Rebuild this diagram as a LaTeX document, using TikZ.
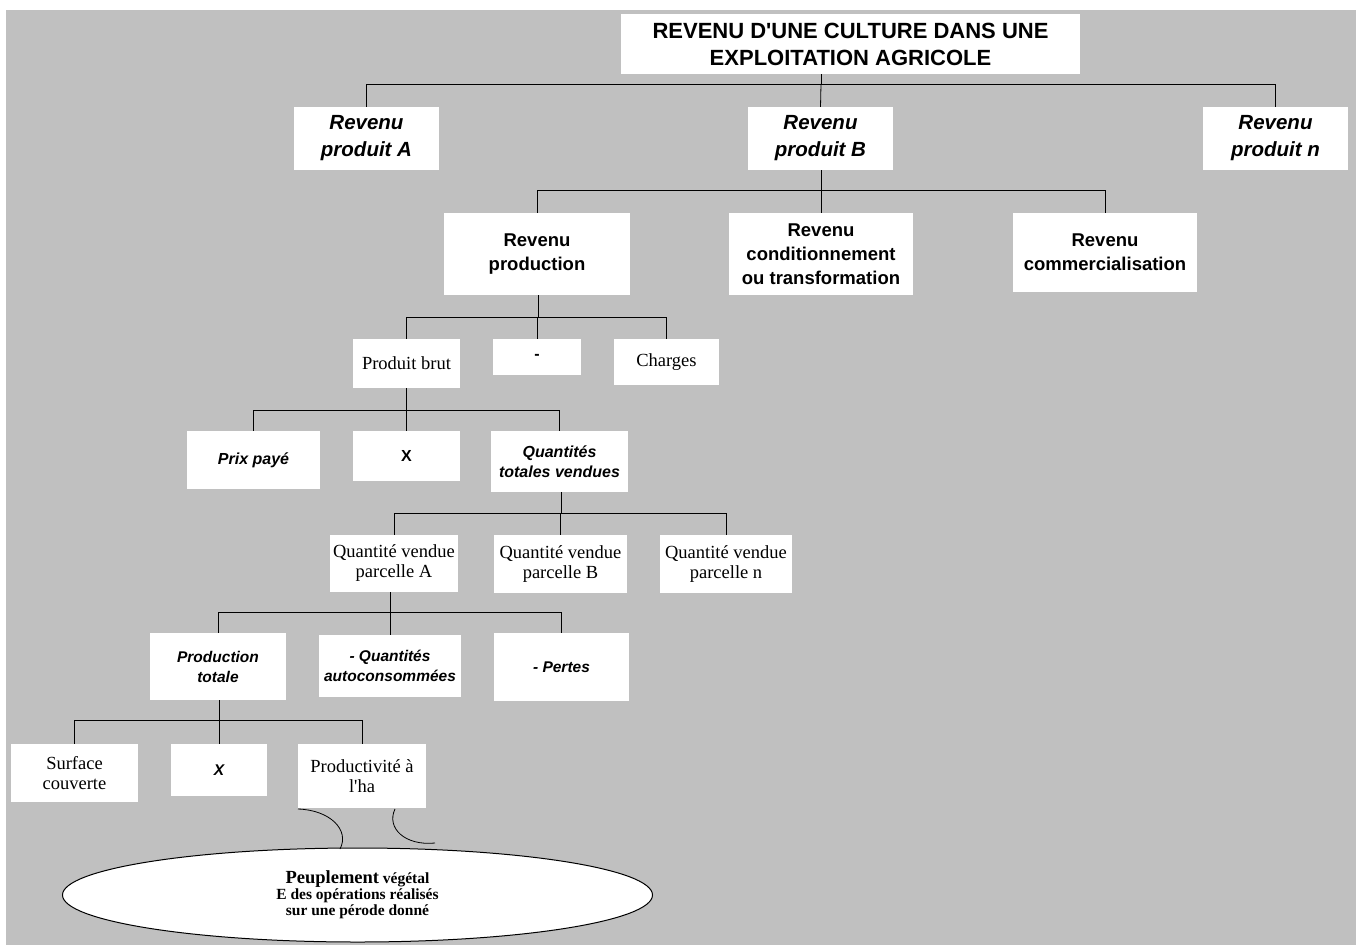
\documentclass[tikz,border=0pt]{standalone}
\usepackage{fontspec}
\setmainfont{Liberation Serif}[Ligatures=TeXOff]
\newfontfamily\sansf{Liberation Sans}
\usetikzlibrary{shapes.geometric}
\definecolor{bg}{RGB}{192,192,192}
\begin{document}
\begin{tikzpicture}[x=1pt,y=-1pt,
 box/.style={fill=white, inner sep=0pt, align=center},
 ser/.style={font=\fontsize{18.5}{20}\selectfont},
 ttl/.style={font=\sansf\bfseries\fontsize{22}{27}\selectfont},
 lvA/.style={font=\sansf\bfseries\itshape\fontsize{20.5}{27}\selectfont},
 lvB/.style={font=\sansf\bfseries\fontsize{18.5}{24}\selectfont},
 lvC/.style={font=\sansf\bfseries\itshape\fontsize{16}{20}\selectfont},
 lvD/.style={font=\sansf\bfseries\itshape\fontsize{15.5}{20}\selectfont},
 lvX/.style={font=\sansf\bfseries\fontsize{16}{20}\selectfont},
 wire/.style={line width=0.8pt, black}
]
\useasboundingbox (0,0) rectangle (1362,945);
\fill[bg] (6,10) rectangle (1356,945);

% nodes
\node[box,ttl,minimum width=459,minimum height=60] (title) at (850.5,44) {REVENU D'UNE CULTURE DANS UNE\\EXPLOITATION AGRICOLE};
\node[box,lvA,minimum width=145,minimum height=63] (pA) at (366.5,138.5) {Revenu\\produit A};
\node[box,lvA,minimum width=145,minimum height=63] (pB) at (820.5,138.5) {Revenu\\produit B};
\node[box,lvA,minimum width=145,minimum height=63] (pN) at (1275.5,138.5) {Revenu\\produit n};
\node[box,lvB,minimum width=186,minimum height=82] (rprod) at (537,254) {Revenu\\production};
\node[box,lvB,minimum width=184,minimum height=82] (rcond) at (821,254) {Revenu\\conditionnement\\ou transformation};
\node[box,lvB,minimum width=184,minimum height=79] (rcomm) at (1105,252.5) {Revenu\\commercialisation};
\node[box,ser,minimum width=107,minimum height=49] (pbrut) at (406.5,363.5) {Produit brut};
\node[box,lvX,minimum width=88,minimum height=36] (minus) at (537,357) {-};
\node[box,ser,minimum width=105,minimum height=46] (charges) at (666.5,362) {Charges};
\node[box,lvC,minimum width=133,minimum height=58] (prix) at (253.5,460) {Prix payé};
\node[box,lvX,minimum width=107,minimum height=50] (xa) at (406.5,456) {X};
\node[box,lvC,minimum width=137,minimum height=61] (qtv) at (559.5,461.5) {Quantités\\totales vendues};
\node[box,ser,minimum width=128,minimum height=57] (qva) at (394,563.5) {Quantité vendue\\parcelle A};
\node[box,ser,minimum width=133,minimum height=58] (qvb) at (560.5,564) {Quantité vendue\\parcelle B};
\node[box,ser,minimum width=132,minimum height=58] (qvn) at (726,564) {Quantité vendue\\parcelle n};
\node[box,lvD,minimum width=136,minimum height=67] (ptot) at (218,666.5) {Production\\totale};
\node[box,lvD,minimum width=142,minimum height=62] (qauto) at (390,666) {- Quantités\\autoconsommées};
\node[box,lvD,minimum width=135,minimum height=68] (pertes) at (561.5,667) {- Pertes};
\node[box,ser,minimum width=127,minimum height=58] (surf) at (74.5,773) {Surface\\couverte};
\node[box,lvD,minimum width=96,minimum height=52] (xb) at (219,770) {X};
\node[box,ser,minimum width=128,minimum height=64] (prodha) at (362,776) {Productivité à\\l'ha};

\node[ellipse,draw,line width=1pt,fill=white,inner sep=0pt,minimum width=590,minimum height=94,align=center,
  font=\bfseries\fontsize{15.5}{16}\selectfont] (ell) at (357.5,895)
  {{\fontsize{18.5}{16}\selectfont Peuplement} végétal\\E des opérations réalisés\\sur une pérode donné};

% buses
\coordinate (b1) at (821,84);
\coordinate (b2) at (821,190);
\coordinate (b3) at (538,317);
\coordinate (b4) at (406.5,410);
\coordinate (b5) at (561,513);
\coordinate (b6) at (390,612);
\coordinate (b7) at (219,720);

\draw[wire] (b1 |- title.south) -- (b1);
\draw[wire] (pA.north) |- (b1);
\draw[wire] (pB.north) -- (b1);
\draw[wire] (pN.north) |- (b1);

\draw[wire] (b2 |- pB.south) -- (b2);
\draw[wire] (rprod.north) |- (b2);
\draw[wire] (rcond.north) -- (b2);
\draw[wire] (rcomm.north) |- (b2);

\draw[wire] (b3 |- rprod.south) -- (b3);
\draw[wire] (pbrut.north) |- (b3);
\draw[wire] (minus.north) |- (b3);
\draw[wire] (charges.north) |- (b3);

\draw[wire] (b4 |- pbrut.south) -- (b4);
\draw[wire] (prix.north) |- (b4);
\draw[wire] (xa.north) |- (b4);
\draw[wire] (qtv.north) |- (b4);

\draw[wire] (b5 |- qtv.south) -- (b5);
\draw[wire] (qva.north) |- (b5);
\draw[wire] (qvb.north) |- (b5);
\draw[wire] (qvn.north) |- (b5);

\draw[wire] (b6 |- qva.south) -- (b6);
\draw[wire] (ptot.north) |- (b6);
\draw[wire] (qauto.north) |- (b6);
\draw[wire] (pertes.north) |- (b6);

\draw[wire] (b7 |- ptot.south) -- (b7);
\draw[wire] (surf.north) |- (b7);
\draw[wire] (xb.north) |- (b7);
\draw[wire] (prodha.north) |- (b7);

% brace-like arcs
\coordinate (a1s) at (298,809);
\coordinate (a1e) at (340,849);
\coordinate (a2s) at (395,809);
\coordinate (a2e) at (435,843);
\draw[wire] (a1s) .. controls (330,810) and (350,830) .. (a1e);
\draw[wire] (a2s) .. controls (386,828) and (405,846) .. (a2e);
\end{tikzpicture}
\end{document}
